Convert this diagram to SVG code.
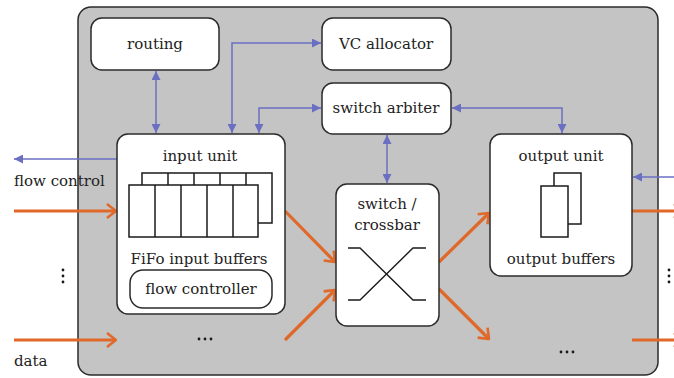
<svg xmlns="http://www.w3.org/2000/svg" width="674" height="378" viewBox="0 0 674 378">
  <defs>
    <style>
      .box { fill: #ffffff; stroke: #2b2b2b; stroke-width: 1.5; }
      .cell { fill: #ffffff; stroke: #1a1a1a; stroke-width: 1.5; }
      .lbl { font-family: "DejaVu Serif", "Liberation Serif", serif; font-size: 15px; fill: #222222; text-anchor: middle; }
      .side { font-family: "DejaVu Serif", "Liberation Serif", serif; font-size: 15px; fill: #222222; }
      .ctl { fill: none; stroke: #6b6fc2; stroke-width: 1.5; }
      .dat { fill: none; stroke: #e0692a; stroke-width: 3.2; }
      .xbar { fill: none; stroke: #1a1a1a; stroke-width: 1.4; }
    </style>
    <marker id="blueHead" viewBox="0 0 10 10" refX="10" refY="5" markerWidth="6" markerHeight="6" orient="auto-start-reverse" markerUnits="strokeWidth">
      <path d="M0,0 L10,5 L0,10 Z" fill="#6b6fc2"/>
    </marker>
    <marker id="orangeHead" viewBox="0 0 12 16" refX="11" refY="8" markerWidth="3.75" markerHeight="5" orient="auto" markerUnits="strokeWidth">
      <path d="M2,1 L11,8 L2,15" fill="none" stroke="#e0692a" stroke-width="2.6"/>
    </marker>
  </defs>

  <!-- router enclosure -->
  <rect id="router" x="78" y="7" width="580" height="368" rx="13" fill="#c3c4c3" stroke="#2b2b2b" stroke-width="1.5"/>

  <!-- connectors -->
  <g id="connectors">
    <!-- control signals -->
    <line class="ctl" x1="156" y1="71" x2="156" y2="133" marker-start="url(#blueHead)" marker-end="url(#blueHead)"/>
    <polyline class="ctl" points="232,133 232,43 321,43" marker-start="url(#blueHead)" marker-end="url(#blueHead)"/>
    <polyline class="ctl" points="259,133 259,108 321,108" marker-start="url(#blueHead)" marker-end="url(#blueHead)"/>
    <polyline class="ctl" points="452,108 562,108 562,133" marker-start="url(#blueHead)" marker-end="url(#blueHead)"/>
    <line class="ctl" x1="387" y1="135" x2="387" y2="183" marker-start="url(#blueHead)" marker-end="url(#blueHead)"/>
    <line class="ctl" x1="674" y1="177" x2="633" y2="177" marker-end="url(#blueHead)"/>
    <line class="ctl" x1="117" y1="159" x2="14" y2="159" marker-end="url(#blueHead)"/>

    <!-- data paths -->
    <line class="dat" x1="14" y1="211" x2="116" y2="211" marker-end="url(#orangeHead)"/>
    <line class="dat" x1="14" y1="340" x2="116" y2="340" marker-end="url(#orangeHead)"/>
    <line class="dat" x1="285" y1="211" x2="335" y2="262" marker-end="url(#orangeHead)"/>
    <line class="dat" x1="285" y1="340" x2="335" y2="290" marker-end="url(#orangeHead)"/>
    <line class="dat" x1="439" y1="262" x2="489" y2="213" marker-end="url(#orangeHead)"/>
    <line class="dat" x1="439" y1="289" x2="489" y2="339" marker-end="url(#orangeHead)"/>
    <line class="dat" x1="632" y1="211" x2="683" y2="211" marker-end="url(#orangeHead)"/>
    <line class="dat" x1="632" y1="340" x2="683" y2="340" marker-end="url(#orangeHead)"/>
  </g>

  <!-- routing -->
  <g id="routing">
    <rect class="box" x="91" y="18" width="128" height="52" rx="11"/>
    <text class="lbl" x="155" y="49">routing</text>
  </g>

  <!-- VC allocator -->
  <g id="vc-allocator">
    <rect class="box" x="322" y="18" width="129" height="52" rx="11"/>
    <text class="lbl" x="386" y="49">VC allocator</text>
  </g>

  <!-- switch arbiter -->
  <g id="switch-arbiter">
    <rect class="box" x="322" y="83" width="129" height="51" rx="11"/>
    <text class="lbl" x="386" y="113">switch arbiter</text>
  </g>

  <!-- input unit -->
  <g id="input-unit">
    <rect class="box" x="117" y="134" width="168" height="180" rx="11"/>
    <text class="lbl" x="200" y="161">input unit</text>
    <!-- back buffer row -->
    <rect class="cell" x="142" y="173" width="130" height="50"/>
    <line class="cell" x1="168" y1="173" x2="168" y2="185"/>
    <line class="cell" x1="194" y1="173" x2="194" y2="185"/>
    <line class="cell" x1="220" y1="173" x2="220" y2="185"/>
    <line class="cell" x1="246" y1="173" x2="246" y2="185"/>
    <!-- front buffer row -->
    <rect class="cell" x="129" y="185" width="129" height="52"/>
    <line class="cell" x1="155" y1="185" x2="155" y2="237"/>
    <line class="cell" x1="181" y1="185" x2="181" y2="237"/>
    <line class="cell" x1="207" y1="185" x2="207" y2="237"/>
    <line class="cell" x1="233" y1="185" x2="233" y2="237"/>
    <text class="lbl" x="199" y="264">FiFo input buffers</text>
  </g>

  <!-- flow controller -->
  <g id="flow-controller">
    <rect class="box" x="130" y="270" width="142" height="38" rx="13"/>
    <text class="lbl" x="201" y="294">flow controller</text>
  </g>

  <!-- switch / crossbar -->
  <g id="crossbar">
    <rect class="box" x="336" y="184" width="103" height="142" rx="11"/>
    <text class="lbl" x="387" y="209">switch /</text>
    <text class="lbl" x="387" y="230">crossbar</text>
    <polyline class="xbar" points="348,248 360,248 413,300 426,300"/>
    <polyline class="xbar" points="348,300 360,300 413,248 426,248"/>
  </g>

  <!-- output unit -->
  <g id="output-unit">
    <rect class="box" x="490" y="134" width="142" height="142" rx="11"/>
    <text class="lbl" x="561" y="161">output unit</text>
    <rect class="cell" x="554" y="173" width="27" height="51"/>
    <rect class="cell" x="541" y="186" width="27" height="51"/>
    <text class="lbl" x="561" y="264">output buffers</text>
  </g>

  <!-- side labels and ellipses -->
  <text class="side" x="14" y="186">flow control</text>
  <text class="side" x="14" y="366">data</text>
  <g fill="#1a1a1a">
    <circle cx="63" cy="270" r="1.4"/>
    <circle cx="63" cy="276" r="1.4"/>
    <circle cx="63" cy="282" r="1.4"/>
    <circle cx="669" cy="270" r="1.4"/>
    <circle cx="669" cy="276" r="1.4"/>
    <circle cx="669" cy="282" r="1.4"/>
    <circle cx="199" cy="339" r="1.4"/>
    <circle cx="205" cy="339" r="1.4"/>
    <circle cx="211" cy="339" r="1.4"/>
    <circle cx="561" cy="352" r="1.4"/>
    <circle cx="567" cy="352" r="1.4"/>
    <circle cx="573" cy="352" r="1.4"/>
  </g>
</svg>
